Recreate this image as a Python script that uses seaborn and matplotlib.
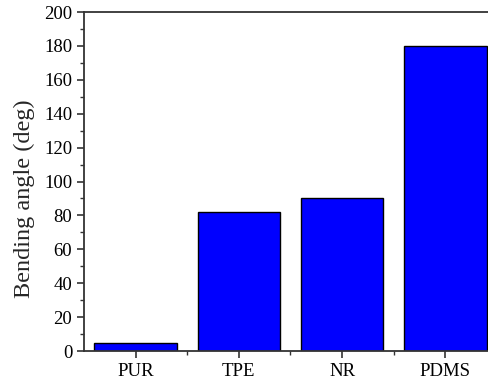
import matplotlib
matplotlib.use("Agg")
import matplotlib.pyplot as plt
from matplotlib.ticker import MultipleLocator, FixedLocator
import seaborn as sns
import pandas as pd

materials = ["PUR", "TPE", "NR", "PDMS"]
bending_angle = [4.5, 82, 90, 180]

sns.set_style("ticks")
plt.rcParams["font.family"] = ["Liberation Serif", "DejaVu Serif"]

df = pd.DataFrame({"material": materials, "angle": bending_angle})

fig = plt.figure(figsize=(4.89, 3.81), dpi=100)
ax = fig.add_axes([0.1718, 0.0787, 0.8445, 0.8898])

sns.barplot(data=df, x="material", y="angle", color="#0000ff", saturation=1,
            edgecolor="black", linewidth=1.0, width=0.8, ax=ax)

ax.set_xlim(-0.5, 3.5)
ax.set_ylim(0, 200)
ax.yaxis.set_major_locator(MultipleLocator(20))
ax.yaxis.set_minor_locator(MultipleLocator(10))
ax.xaxis.set_minor_locator(FixedLocator([0.5, 1.5, 2.5]))

for side in ["left", "bottom", "top", "right"]:
    ax.spines[side].set_visible(True)
    ax.spines[side].set_linewidth(1.3)
    ax.spines[side].set_color("#333333")

ax.tick_params(axis="both", which="major", direction="out", length=5, width=1.2,
               labelsize=13.5, colors="#333333", labelcolor="black")
ax.tick_params(axis="both", which="minor", direction="out", length=3, width=1.0,
               colors="#333333")
ax.tick_params(top=False, right=False, which="both")

ax.set_xlabel("")
ax.set_ylabel("Bending angle (deg)", fontsize=17.5)
ax.yaxis.set_label_coords(-0.118, 0.45)

fig.savefig("out.png", dpi=100)
